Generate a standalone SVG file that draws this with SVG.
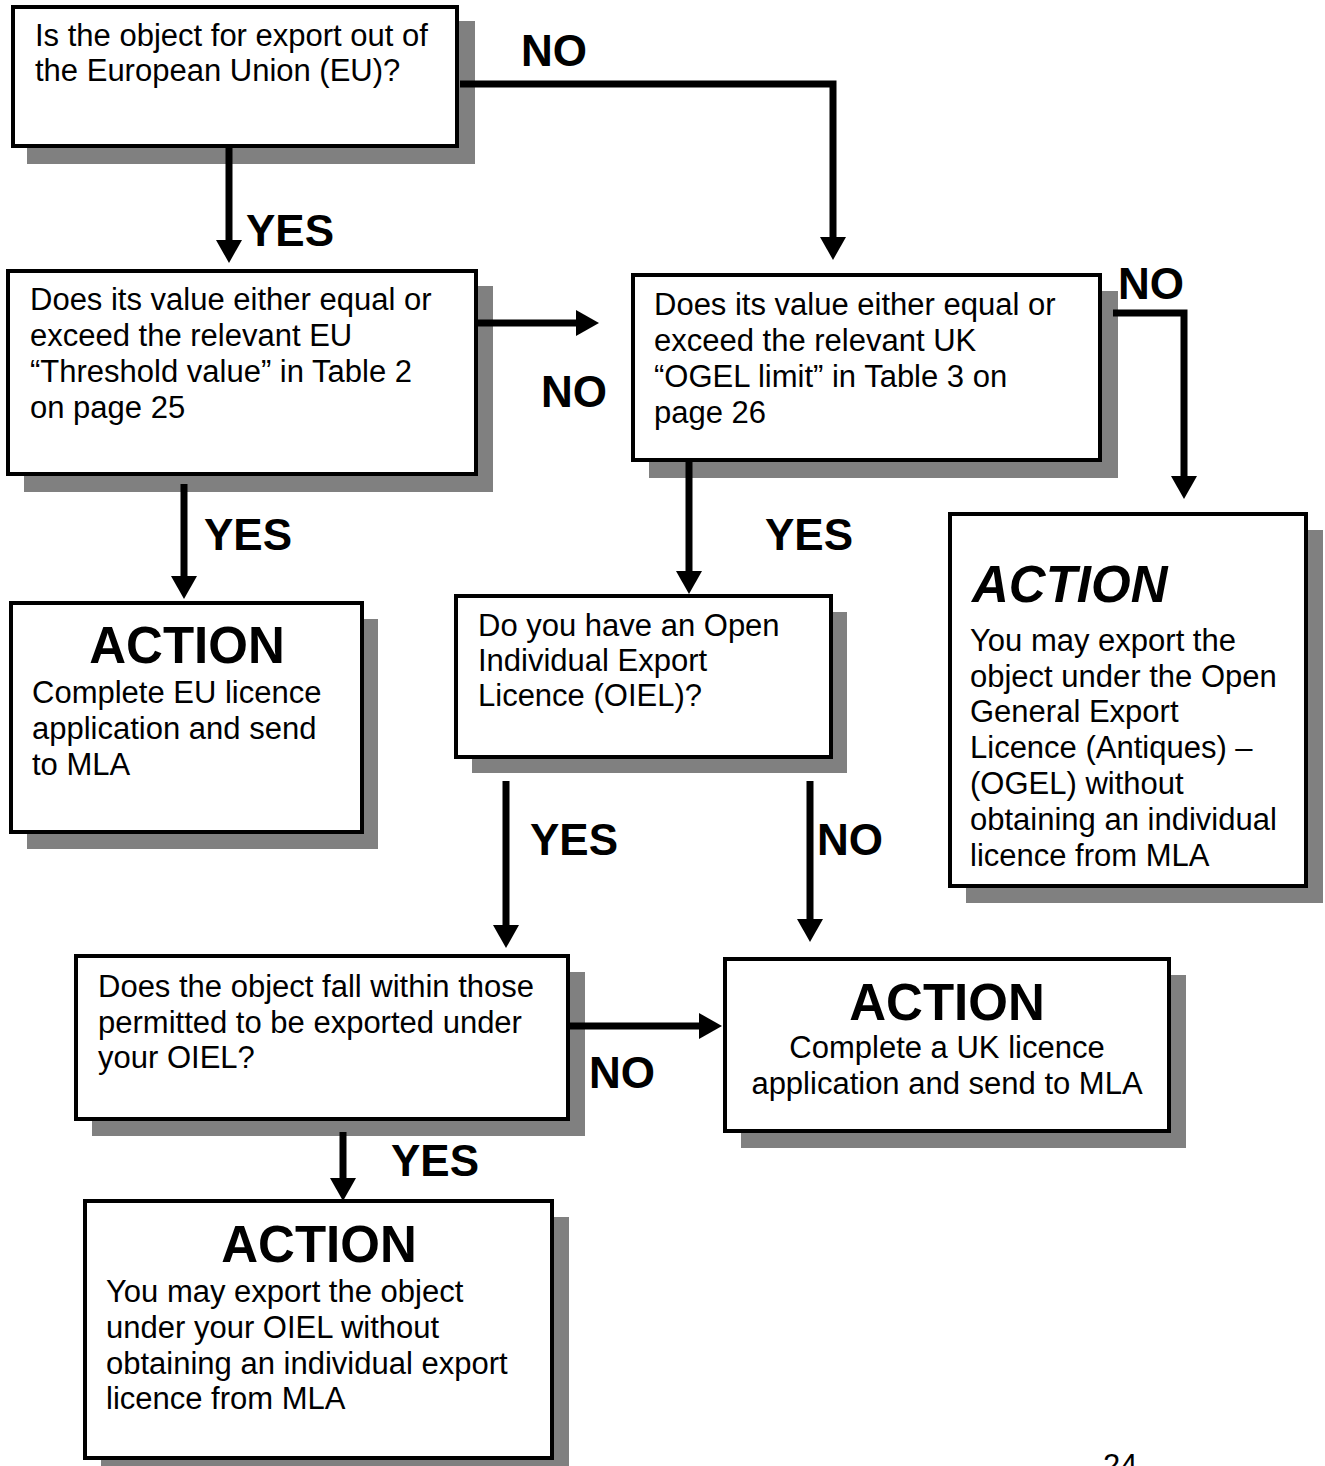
<svg xmlns="http://www.w3.org/2000/svg" width="1325" height="1466" viewBox="0 0 1325 1466">
<defs>
<style>
.sh{fill:#808080;stroke:none}
.bx{fill:#fff;stroke:#000;stroke-width:4}
.t{font-family:"Liberation Sans",Arial,sans-serif;font-size:31px;fill:#000}
.lb{font-family:"Liberation Sans",Arial,sans-serif;font-size:44px;font-weight:bold;fill:#000}
.ac{font-family:"Liberation Sans",Arial,sans-serif;font-size:51px;font-weight:bold;fill:#000}
.c{fill:none;stroke:#000;stroke-width:7;stroke-linejoin:miter}
</style>
<marker id="ah" viewBox="0 0 23 26" markerWidth="23" markerHeight="26" refX="0" refY="13" orient="auto" markerUnits="userSpaceOnUse">
<path d="M0,0 L23,13 L0,26 Z" fill="#000"/>
</marker>
</defs>
<rect width="1325" height="1466" fill="#fff"/>

<g id="n1">
<rect class="sh" x="27" y="21" width="448" height="143"/>
<rect class="bx" x="13" y="7" width="444" height="139"/>
<text class="t" x="35" y="46">Is the object for export out of</text>
<text class="t" x="35" y="81">the European Union (EU)?</text>
</g>

<g id="n2">
<rect class="sh" x="24" y="286" width="469" height="206"/>
<rect class="bx" x="8" y="271" width="468" height="203"/>
<text class="t" x="30" y="310">Does its value either equal or</text>
<text class="t" x="30" y="346">exceed the relevant EU</text>
<text class="t" x="30" y="382">“Threshold value” in Table 2</text>
<text class="t" x="30" y="418">on page 25</text>
</g>

<g id="n3">
<rect class="sh" x="649" y="291" width="469" height="187"/>
<rect class="bx" x="633" y="275" width="467" height="185"/>
<text class="t" x="654" y="315">Does its value either equal or</text>
<text class="t" x="654" y="351">exceed the relevant UK</text>
<text class="t" x="654" y="387">“OGEL limit” in Table 3 on</text>
<text class="t" x="654" y="423">page 26</text>
</g>

<g id="n4">
<rect class="sh" x="27" y="619" width="351" height="230"/>
<rect class="bx" x="11" y="603" width="351" height="229"/>
<text class="ac" x="187" y="663" text-anchor="middle">ACTION</text>
<text class="t" x="32" y="703">Complete EU licence</text>
<text class="t" x="32" y="739">application and send</text>
<text class="t" x="32" y="775">to MLA</text>
</g>

<g id="n5">
<rect class="sh" x="472" y="612" width="375" height="161"/>
<rect class="bx" x="456" y="596" width="375" height="161"/>
<text class="t" x="478" y="636">Do you have an Open</text>
<text class="t" x="478" y="671">Individual Export</text>
<text class="t" x="478" y="706">Licence (OIEL)?</text>
</g>

<g id="n6">
<rect class="sh" x="966" y="530" width="357" height="373"/>
<rect class="bx" x="950" y="514" width="356" height="372"/>
<text class="ac" x="972" y="602" font-style="italic">ACTION</text>
<text class="t" x="970" y="651">You may export the</text>
<text class="t" x="970" y="687">object under the Open</text>
<text class="t" x="970" y="722">General Export</text>
<text class="t" x="970" y="758">Licence (Antiques) –</text>
<text class="t" x="970" y="794">(OGEL) without</text>
<text class="t" x="970" y="830">obtaining an individual</text>
<text class="t" x="970" y="866">licence from MLA</text>
</g>

<g id="n7">
<rect class="sh" x="92" y="972" width="493" height="164"/>
<rect class="bx" x="76" y="956" width="492" height="163"/>
<text class="t" x="98" y="997">Does the object fall within those</text>
<text class="t" x="98" y="1033">permitted to be exported under</text>
<text class="t" x="98" y="1068">your OIEL?</text>
</g>

<g id="n8">
<rect class="sh" x="741" y="975" width="445" height="173"/>
<rect class="bx" x="725" y="959" width="444" height="172"/>
<text class="ac" x="947" y="1020" text-anchor="middle">ACTION</text>
<text class="t" x="947" y="1058" text-anchor="middle">Complete a UK licence</text>
<text class="t" x="947" y="1094" text-anchor="middle">application and send to MLA</text>
</g>

<g id="n9">
<rect class="sh" x="101" y="1217" width="468" height="260"/>
<rect class="bx" x="85" y="1201" width="467" height="257"/>
<text class="ac" x="319" y="1262" text-anchor="middle">ACTION</text>
<text class="t" x="106" y="1302">You may export the object</text>
<text class="t" x="106" y="1338">under your OIEL without</text>
<text class="t" x="106" y="1374">obtaining an individual export</text>
<text class="t" x="106" y="1409">licence from MLA</text>
</g>

<g id="connectors">
<path class="c" d="M229,148 V240" marker-end="url(#ah)"/>
<path class="c" d="M460,84 H833 V237" marker-end="url(#ah)"/>
<path class="c" d="M478,323 H576" marker-end="url(#ah)"/>
<path class="c" d="M1113,313 H1184 V476" marker-end="url(#ah)"/>
<path class="c" d="M184,484 V576" marker-end="url(#ah)"/>
<path class="c" d="M689,462 V571" marker-end="url(#ah)"/>
<path class="c" d="M506,781 V925" marker-end="url(#ah)"/>
<path class="c" d="M810,781 V919" marker-end="url(#ah)"/>
<path class="c" d="M570,1026 H699" marker-end="url(#ah)"/>
<path class="c" d="M343,1132 V1178" marker-end="url(#ah)"/>
</g>

<g id="labels">
<text class="lb" x="521" y="66">NO</text>
<text class="lb" x="246" y="246">YES</text>
<text class="lb" x="541" y="407">NO</text>
<text class="lb" x="1118" y="299">NO</text>
<text class="lb" x="204" y="550">YES</text>
<text class="lb" x="765" y="550">YES</text>
<text class="lb" x="530" y="855">YES</text>
<text class="lb" x="817" y="855">NO</text>
<text class="lb" x="589" y="1088">NO</text>
<text class="lb" x="391" y="1176">YES</text>
</g>

<text class="t" x="1103" y="1476" font-size="29">24</text>
</svg>
